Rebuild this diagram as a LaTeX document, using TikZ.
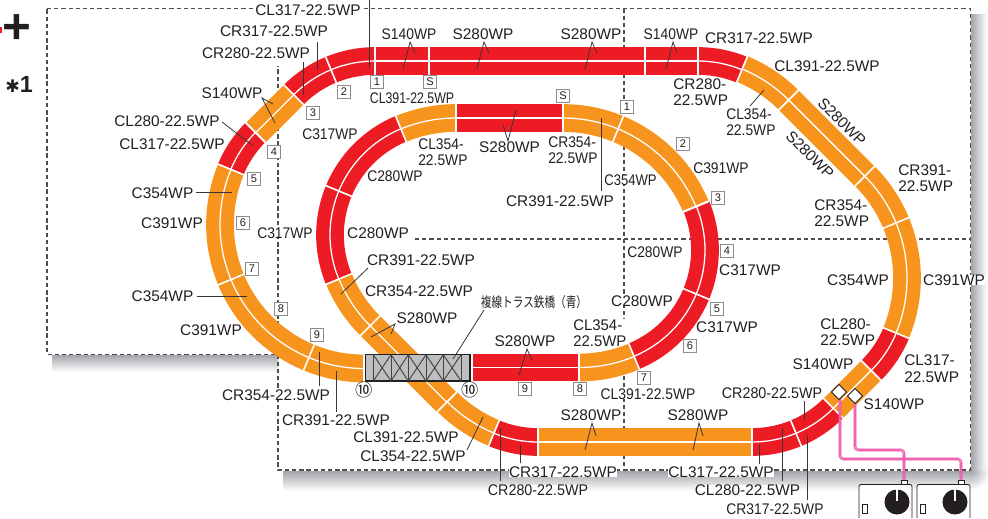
\documentclass[tikz,border=0pt]{standalone}
\usepackage{fontspec}
\setmainfont{Liberation Sans}
\newfontfamily\cjk{Noto Sans CJK JP}
\newfontfamily\djv{DejaVu Sans}
\usetikzlibrary{calc}
\definecolor{trackred}{HTML}{ED1C24}
\definecolor{trackorange}{HTML}{F7941E}
\definecolor{inkc}{HTML}{231F20}
\definecolor{dashc}{HTML}{4D4E50}
\definecolor{shadowc}{HTML}{A4A6AB}
\definecolor{wirec}{HTML}{EC3FA0}
\definecolor{bridgec}{HTML}{BCBEC0}
\newcounter{nn}
\tikzset{
  lab/.style={text=inkc,fill=white,inner sep=0pt,font=\fontsize{11.55}{12.4}\selectfont},
  tag/.style={draw=black!45,fill=white,line width=.65pt,minimum size=9.4pt,inner sep=0pt,text=inkc,font=\fontsize{8.3}{9}\selectfont},
  leader/.style={draw=inkc!90,line width=.6pt},
  bdash/.style={draw=dashc,line width=1pt,dash pattern=on 3.2pt off 2.2pt},
  wire/.style={draw=wirec,line width=.6pt,double=white!55!wirec,double distance=.7pt,rounded corners=2.5pt},
  truss/.style={draw=inkc!85,line width=.7pt},
}
\newcommand\lab[4]{\stepcounter{nn}\node[lab] (t\arabic{nn}) at (#1,#2) {\scalebox{#3}[1]{#4}};}
\newcommand\labb[5]{\stepcounter{nn}\node[lab,anchor=west,align=left] (t\arabic{nn}) at (#1,#2) {\scalebox{#3}[1]{#4}\\\scalebox{#3}[1]{#5}};}
\newcommand\rlab[3]{\stepcounter{nn}\node[lab,rotate=-45] (t\arabic{nn}) at (#1,#2) {#3};}
\newcommand\tagn[3]{\stepcounter{nn}\node[tag] (t\arabic{nn}) at (#1,#2) {#3};}
\newcommand\ld[2]{\stepcounter{nn}\coordinate (a\arabic{nn}) at (#1);\coordinate (b\arabic{nn}) at (#2);\draw[leader] (a\arabic{nn}) -- (b\arabic{nn});}
\newcommand\fk[3]{\stepcounter{nn}\coordinate (a\arabic{nn}) at (#1);\coordinate (b\arabic{nn}) at (#2);\coordinate (c\arabic{nn}) at (#3);\draw[leader] (b\arabic{nn}) -- (a\arabic{nn}) -- (c\arabic{nn});}
% pass one: bodies
\newcommand\bodyarc[6]{\draw[#1,line width=20.8pt] (#2,#3) ++(#5:#4) arc[start angle=#5,end angle=#6,radius=#4*0.75pt];
 \draw[white,line width=.95pt] (#2,#3) ++(#5:#4) arc[start angle=#5,end angle=#6,radius=#4*0.75pt];}
\newcommand\bodyline[5]{\draw[#1,line width=20.8pt] (#2,#3) -- (#4,#5);\draw[white,line width=.95pt] (#2,#3) -- (#4,#5);}
% pass two: joints
\newcommand\jointarc[6]{\draw[white,line width=1pt] (#2,#3) ++(#5:{#4-14}) -- ++(#5:28);\draw[white,line width=1pt] (#2,#3) ++(#6:{#4-14}) -- ++(#6:28);}
\newcommand\jointline[5]{\draw[white,line width=1pt] ($(#2,#3)!10.4pt!90:(#4,#5)$) -- ($(#2,#3)!-10.4pt!90:(#4,#5)$);\draw[white,line width=1pt] ($(#4,#5)!10.4pt!90:(#2,#3)$) -- ($(#4,#5)!-10.4pt!90:(#2,#3)$);}
\newcommand\alltracks{%
 \tline{trackorange}{370.2}{325.8}{446.6}{402.2}
 \tarc{trackorange}{472}{224}{144}{157.5}{135}
 \tarc{trackorange}{549}{300}{144}{135}{112.5}
 \tarc{trackred}{538}{327}{115}{112.5}{90}
 \tline{trackorange}{538}{442}{752}{442}
 \tarc{trackred}{752}{327}{115}{90}{67.5}
 \tarc{trackred}{752}{327}{115}{67.5}{45}
 \tline{trackorange}{833.3}{408.3}{871}{370.6}
 \tarc{trackred}{790}{289}{115}{45}{22.5}
 \tarc{trackorange}{763}{278}{144}{22.5}{-22.5}
 \tarc{trackorange}{763}{278}{144}{-22.5}{-45}
 \tline{trackorange}{864.8}{176.2}{788.4}{99.8}
 \tarc{trackorange}{687}{202}{144}{-45}{-67.5}
 \tarc{trackred}{698}{176}{115}{-67.5}{-90}
 \tline{trackred}{645}{61}{698}{61}
 \tline{trackred}{429}{61}{645}{61}
 \tline{trackred}{375}{61}{429}{61}
 \tarc{trackred}{375}{176}{115}{-90}{-112.5}
 \tarc{trackred}{375}{176}{115}{-112.5}{-135}
 \tline{trackorange}{293.7}{94.7}{255.5}{132.9}
 \tarc{trackred}{337}{213.5}{115}{-135}{-157.5}
 \tarc{trackorange}{364}{224.5}{144}{202.5}{157.5}
 \tarc{trackorange}{364}{224.5}{144}{157.5}{112.5}
 \tarc{trackorange}{364}{224.5}{144}{112.5}{90}
 \tline{trackred}{472}{367.5}{579}{367.5}
 \tarc{trackorange}{579}{223.5}{144}{90}{67.5}
 \tarc{trackred}{590}{250}{115}{67.5}{22.5}
 \tarc{trackred}{590}{250}{115}{22.5}{-22.5}
 \tarc{trackorange}{563}{262}{144}{-22.5}{-67.5}
 \tarc{trackorange}{563}{262}{144}{-67.5}{-90}
 \tline{trackred}{563}{118}{456}{118}
 \tarc{trackorange}{456}{262}{144}{-90}{-112.5}
 \tarc{trackred}{445}{235}{115}{-112.5}{-157.5}
 \tarc{trackred}{445}{235}{115}{-157.5}{-202.5}
}
\begin{document}
\begin{tikzpicture}[x=.75pt,y=.75pt,yscale=-1]
\useasboundingbox (0,0) rectangle (988,518);
% shadows
\shade[top color=shadowc,bottom color=white] (52,355) rectangle (278,372);
\shade[top color=shadowc,bottom color=white] (283,471) rectangle (971,491);
\shade[left color=shadowc,right color=white] (971,14) rectangle (987,471);
\begin{scope}
\clip (971,471) rectangle (988,491);
\shade[inner color=shadowc,outer color=white] (971,471) circle[radius=14pt];
\end{scope}
% dashed layout outline
\draw[bdash] (47,8.5) -- (970.5,8.5) -- (970.5,470) -- (278,470) -- (278,354.5) -- (47,354.5) -- cycle;
\draw[bdash] (278,354.5) -- (278,66);
\draw[bdash] (624,8.5) -- (624,470);
\draw[bdash] (415,239) -- (970.5,239);
% stray page marks
\fill[trackred] (0,27) rectangle (1.5,33);
\node[inner sep=0pt,text=inkc] (plusmark) at (17,29) {\fontsize{37}{37}\selectfont\bfseries +};
\node[inner sep=0pt,text=inkc] (noteone) at (19,84) {{\fontsize{13}{16}\selectfont\bfseries\djv ✱}\fontsize{17.5}{18}\selectfont\bfseries 1};
% labels
\lab{308}{10}{1}{CL317-22.5WP}
\lab{274}{31}{1}{CR317-22.5WP}
\lab{256}{53}{1}{CR280-22.5WP}
\lab{232}{93}{1}{S140WP}
\lab{167}{121}{1}{CL280-22.5WP}
\lab{172}{144}{1}{CL317-22.5WP}
\lab{162.5}{193}{1}{C354WP}
\lab{172}{223}{1}{C391WP}
\lab{285}{233}{.9}{C317WP}
\lab{330}{134}{.9}{C317WP}
\lab{409}{34}{.9}{S140WP}
\lab{483}{34}{1}{S280WP}
\lab{591}{34}{1}{S280WP}
\lab{671}{34}{.9}{S140WP}
\lab{759}{38}{1}{CR317-22.5WP}
\lab{827}{66}{1}{CL391-22.5WP}
\labb{673}{92}{1}{CR280-}{22.5WP}
\labb{726}{122}{.9}{CL354-}{22.5WP}
\rlab{842}{122}{S280WP}
\rlab{810}{155}{S280WP}
\labb{898}{178}{1}{CR391-}{22.5WP}
\labb{814}{213}{1}{CR354-}{22.5WP}
\lab{721}{168}{.9}{C391WP}
\lab{412}{98}{.8}{CL391-22.5WP}
\labb{418}{152}{.9}{CL354-}{22.5WP}
\lab{509.5}{147}{1}{S280WP}
\labb{548}{150}{.9}{CR354-}{22.5WP}
\lab{630.5}{180}{.85}{C354WP}
\lab{560}{201}{1}{CR391-22.5WP}
\lab{395}{176}{.9}{C280WP}
\lab{378}{233}{1}{C280WP}
\lab{655}{252}{.9}{C280WP}
\lab{750}{270}{1}{C317WP}
\lab{642}{301}{1}{C280WP}
\lab{727}{327}{1}{C317WP}
\labb{573}{333}{.97}{CL354-}{22.5WP}
\lab{421}{260}{1}{CR391-22.5WP}
\lab{419}{291}{1}{CR354-22.5WP}
\lab{427}{318}{1}{S280WP}
\stepcounter{nn}\node[lab] (bridgelabel) at (534,302) {\fontsize{10.5}{12}\selectfont\scalebox{.76}[1]{\cjk 複線トラス鉄橋（青）}};
\lab{525}{341}{1}{S280WP}
\lab{648}{394}{.9}{CL391-22.5WP}
\lab{591}{415}{1}{S280WP}
\lab{698}{415}{1}{S280WP}
\lab{406}{437}{1}{CL391-22.5WP}
\lab{413}{456}{1}{CL354-22.5WP}
\lab{563}{472}{1}{CR317-22.5WP}
\lab{538}{490}{.93}{CR280-22.5WP}
\lab{276}{395}{1}{CR354-22.5WP}
\lab{336}{420}{1}{CR391-22.5WP}
\lab{162.5}{296}{1}{C354WP}
\lab{211}{330}{1}{C391WP}
\lab{858}{280}{1}{C354WP}
\lab{954}{280}{1}{C391WP}
\labb{820}{332}{1}{CL280-}{22.5WP}
\lab{823}{364}{1}{S140WP}
\labb{904}{368.5}{1}{CL317-}{22.5WP}
\lab{772}{393}{.93}{CR280-22.5WP}
\lab{894}{404}{1}{S140WP}
\lab{721}{472}{1}{CL317-22.5WP}
\lab{747.5}{490}{1}{CL280-22.5WP}
\lab{775}{509}{.9}{CR317-22.5WP}
% tracks
\let\tarc\bodyarc\let\tline\bodyline
\alltracks
\let\tarc\jointarc\let\tline\jointline
\alltracks
% bridge
\node[draw=inkc,line width=.8pt,fill=bridgec,minimum width=78.7pt,minimum height=19.8pt,inner sep=0pt] (bridge) at (417.5,367.8) {};
\foreach \xa/\xb in {373.3/391,391/408.3,408.3/426,426/443.3,443.3/461}{
  \draw[truss] (\xa,354.7) -- (\xb,381) (\xa,381) -- (\xb,354.7);
  \draw[truss] (\xa,354.7) -- (\xa,381) (\xb,354.7) -- (\xb,381);
}
\node[inner sep=0pt,text=inkc] (ten1) at (364,390) {\fontsize{13}{13}\selectfont\cjk ⑩};
\node[inner sep=0pt,text=inkc] (ten2) at (470,390) {\fontsize{13}{13}\selectfont\cjk ⑩};
% tags
\tagn{377}{82}{1}\tagn{344}{92}{2}\tagn{313}{113}{3}\tagn{274}{152}{4}\tagn{254}{179}{5}\tagn{243}{223}{6}\tagn{252}{269}{7}\tagn{281}{309}{8}\tagn{317}{335}{9}
\tagn{430}{82}{S}\tagn{563}{96}{S}\tagn{627}{107}{1}\tagn{683}{144}{2}\tagn{718}{198}{3}\tagn{727}{251}{4}\tagn{717}{309}{5}\tagn{690}{346}{6}\tagn{644}{378}{7}\tagn{580}{389}{8}\tagn{525}{389}{9}
% leaders
\ld{369,0}{369,68}
\ld{317,42}{317,70}
\ld{303,62}{303,95}
\fk{262,98}{273,104}{275,123}
\ld{222,122}{252,145}
\ld{196,192}{232,192}
\ld{197,296}{247,296}
\ld{319,352}{319,386}
\ld{336,371}{336,412}
\fk{410,42}{415,53}{403,69}
\fk{484,42}{489,53}{477,69}
\fk{592,42}{597,53}{585,69}
\fk{673,42}{677,53}{666,69}
\ld{750,106}{764,90}
\fk{508,141}{503,125}{516,110}
\ld{601,118}{601,191}
\ld{368,268}{341,294}
\fk{395,324}{371,337}{391,334}
\ld{484,310}{453,359}
\fk{527,349}{532,360}{519,375}
\ld{483,417}{467,450}
\ld{500,428}{500,481}
\ld{520,445}{520,463}
\fk{592,423}{596,436}{585,450}
\fk{699,423}{703,436}{693,450}
\ld{759,445}{759,464}
\ld{782,428}{782,481}
\ld{807,435}{807,500}
\ld{804,401}{804,420}
% controllers
\draw[draw=inkc,line width=.6pt,rounded corners=1.5pt,fill=white] (859,518) -- (859,484.5) -- (912,484.5) -- (912,518);
\draw[draw=inkc,line width=.6pt,rounded corners=1.5pt,fill=white] (917,518) -- (917,484.5) -- (970,484.5) -- (970,518);
\node[draw=inkc,fill=white,line width=.6pt,minimum width=4.5pt,minimum height=3pt,inner sep=0pt] (portA) at (904,482) {};
\node[draw=inkc,fill=white,line width=.6pt,minimum width=4.5pt,minimum height=3pt,inner sep=0pt] (portB) at (961,482) {};
% feeders and wires
\coordinate (feedAw) at (840,396);\coordinate (feedBw) at (855,400);
\coordinate (wa1) at (855,450);\coordinate (wa2) at (904,450);
\coordinate (wb1) at (840,459);\coordinate (wb2) at (961,459);
\draw[wire] (feedBw) -- (wa1) -- (wa2) -- (portA.north);
\draw[wire] (feedAw) -- (wb1) -- (wb2) -- (portB.north);
\node[draw=inkc,fill=white,line width=.6pt,rotate=45,minimum size=8pt,inner sep=0pt] (feedA) at (839,392) {};
\node[draw=inkc,fill=white,line width=.6pt,rotate=45,minimum size=8pt,inner sep=0pt] (feedB) at (855,396) {};
\fill[inkc] (897,502) circle[radius=9.4pt];
\fill[inkc] (955,502) circle[radius=9.4pt];
\draw[white,line width=2.2pt] (897,488) -- (897,501);
\draw[white,line width=2.2pt] (955,488) -- (955,501);
\draw[inkc,line width=.6pt] (862.5,504.5) rectangle (867.5,513.5);
\draw[inkc,line width=.6pt] (920.5,504.5) rectangle (925.5,513.5);
\end{tikzpicture}
\end{document}
